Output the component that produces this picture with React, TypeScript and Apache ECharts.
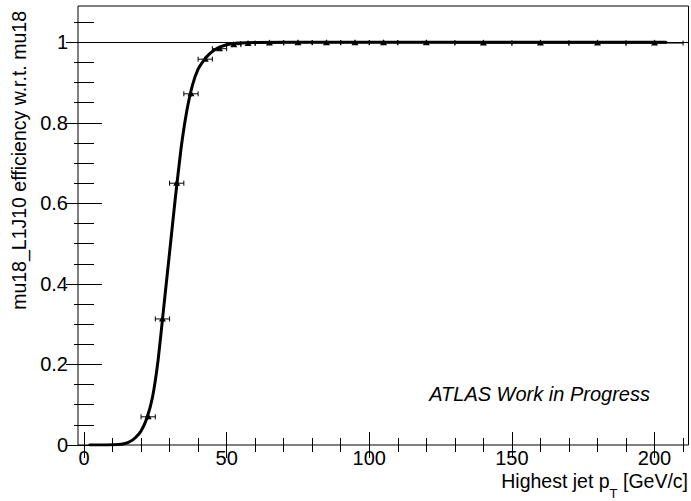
import * as echarts from "echarts";
import { useEffect, useRef } from "react";

// Efficiency points: bin centre, efficiency, half bin width, efficiency error
const binCenters = [22.5, 27.5, 32.5, 37.5, 42.5, 47.5, 52.5, 57.5, 65, 75, 85, 95, 105, 120, 140, 160, 180, 200];
const efficiency = [0.07, 0.313, 0.65, 0.872, 0.958, 0.984, 0.994, 0.997, 0.998, 0.999, 0.999, 0.999, 0.999, 0.999, 0.998, 0.998, 0.998, 0.998];
const binHalfWidth = [2.5, 2.5, 2.5, 2.5, 2.5, 2.5, 2.5, 2.5, 5, 5, 5, 5, 5, 10, 10, 10, 10, 10];
const effError = [0.006, 0.009, 0.01, 0.008, 0.005, 0.003, 0.002, 0.001, 0.001, 0.001, 0.001, 0.001, 0.001, 0.001, 0.001, 0.001, 0.001, 0.001];

// Turn-on fit curve
const fitPt = [2, 8, 12, 14, 16, 18, 20, 22, 24, 26, 28, 30, 32, 34, 36, 38, 40, 42, 44, 46, 48, 50, 54, 60, 80, 120, 160, 204];
const fitEff = [0, 0.0002, 0.001, 0.003, 0.008, 0.018, 0.035, 0.066, 0.118, 0.212, 0.345, 0.478, 0.612, 0.735, 0.828, 0.893, 0.933, 0.955, 0.971, 0.982, 0.989, 0.994, 0.998, 0.9995, 1, 1, 1, 1];

// Axis ticks
const xMajorTicks = [0, 50, 100, 150, 200];
const xMinorTicks = [10, 20, 30, 40, 60, 70, 80, 90, 110, 120, 130, 140, 160, 170, 180, 190, 210];
const yMajorTicks = [0, 0.2, 0.4, 0.6, 0.8, 1];
const yMinorTicks = [0.05, 0.1, 0.15, 0.25, 0.3, 0.35, 0.45, 0.5, 0.55, 0.65, 0.7, 0.75, 0.85, 0.9, 0.95, 1.05];

const X_MIN = -2.1;
const X_MAX = 211.9;
const Y_MIN = 0;
const Y_MAX = 1.09;

const FONT = '"Liberation Sans", Arial, Helvetica, sans-serif';

function tickAxis(
  position: string,
  values: number[],
  length: number,
  isX: boolean,
  withLabels: boolean
) {
  return {
    type: "value",
    min: isX ? X_MIN : Y_MIN,
    max: isX ? X_MAX : Y_MAX,
    position,
    axisLine: { show: false },
    splitLine: { show: false },
    axisTick: {
      show: true,
      inside: true,
      length,
      customValues: values,
      lineStyle: { color: "#000", width: 1 },
    },
    axisLabel: withLabels
      ? {
          show: true,
          customValues: values,
          color: "#000",
          fontFamily: FONT,
          fontSize: 20,
          margin: isX ? 3 : 10,
          formatter: (v: number) => String(v),
        }
      : { show: false },
  };
}

export default function App() {
  const ref = useRef<HTMLDivElement>(null);

  useEffect(() => {
    if (!ref.current) return;
    const chart = echarts.init(ref.current, null, { renderer: "svg" });

    const points = binCenters.map((x, i) => [x, efficiency[i], binHalfWidth[i], effError[i]]);
    const curve = fitPt.map((x, i) => [x, fitEff[i]]);

    chart.setOption({
      animation: false,
      backgroundColor: "#fff",
      grid: {
        left: 78,
        right: 2.5,
        top: 6,
        bottom: 56,
        show: true,
        borderColor: "#000",
        borderWidth: 1,
        backgroundColor: "transparent",
      },
      xAxis: [
        tickAxis("bottom", xMajorTicks, 13, true, true),
        tickAxis("bottom", xMinorTicks, 7, true, false),
        tickAxis("top", xMajorTicks, 13, true, false),
        tickAxis("top", xMinorTicks, 7, true, false),
      ],
      yAxis: [
        tickAxis("left", yMajorTicks, 18, false, true),
        tickAxis("left", yMinorTicks, 10, false, false),
        tickAxis("right", yMajorTicks, 18, false, false),
        tickAxis("right", yMinorTicks, 10, false, false),
      ],
      series: [
        {
          type: "line",
          xAxisIndex: 0,
          yAxisIndex: 0,
          data: curve,
          showSymbol: false,
          smooth: 0.15,
          lineStyle: { color: "#000", width: 3, join: "round", cap: "round" },
          z: 3,
          markLine: {
            silent: true,
            symbol: "none",
            label: { show: false },
            lineStyle: { color: "#000", width: 1, type: "solid" },
            data: [{ yAxis: 1 }],
          },
        },
        {
          type: "custom",
          xAxisIndex: 0,
          yAxisIndex: 0,
          data: points,
          z: 4,
          renderItem: (_params: any, api: any) => {
            const x = api.value(0);
            const y = api.value(1);
            const ex = api.value(2);
            const ey = api.value(3);
            const c = api.coord([x, y]);
            const l = api.coord([x - ex, y]);
            const r = api.coord([x + ex, y]);
            const t = api.coord([x, y + ey]);
            const b = api.coord([x, y - ey]);
            const stroke = { stroke: "#000", lineWidth: 1 };
            const cap = 2.5;
            return {
              type: "group",
              children: [
                { type: "line", shape: { x1: l[0], y1: c[1], x2: r[0], y2: c[1] }, style: stroke },
                { type: "line", shape: { x1: l[0], y1: c[1] - cap, x2: l[0], y2: c[1] + cap }, style: stroke },
                { type: "line", shape: { x1: r[0], y1: c[1] - cap, x2: r[0], y2: c[1] + cap }, style: stroke },
                { type: "line", shape: { x1: c[0], y1: b[1], x2: c[0], y2: t[1] }, style: stroke },
                {
                  type: "polygon",
                  shape: {
                    points: [
                      [c[0] - 3.5, c[1] + 2.5],
                      [c[0] + 3.5, c[1] + 2.5],
                      [c[0], c[1] - 3.5],
                    ],
                  },
                  style: { fill: "#000" },
                },
              ],
            };
          },
        },
      ],
      graphic: [
        {
          type: "text",
          x: 19,
          y: 11,
          rotation: Math.PI / 2,
          style: {
            text: "mu18_L1J10 efficiency w.r.t. mu18",
            fontFamily: FONT,
            fontSize: 19.5,
            fill: "#000",
            align: "right",
            verticalAlign: "middle",
          },
        },
        {
          type: "text",
          x: 688,
          y: 471,
          style: {
            text: "{a|Highest jet p}{s|T}{a| [GeV/c]}",
            align: "right",
            verticalAlign: "top",
            rich: {
              a: { fontFamily: FONT, fontSize: 19.5, fill: "#000", lineHeight: 20, verticalAlign: "top" },
              s: { fontFamily: FONT, fontSize: 13, fill: "#000", lineHeight: 29, verticalAlign: "bottom" },
            },
          },
        },
        {
          type: "text",
          x: 650,
          y: 394,
          style: {
            text: "ATLAS Work in Progress",
            fontFamily: FONT,
            fontSize: 20,
            fontStyle: "italic",
            fill: "#000",
            align: "right",
            verticalAlign: "middle",
          },
        },
      ],
    });

    return () => chart.dispose();
  }, []);

  return (
    <div
      ref={ref}
      style={{ position: "fixed", left: 0, top: 0, width: 691, height: 501 }}
    />
  );
}
